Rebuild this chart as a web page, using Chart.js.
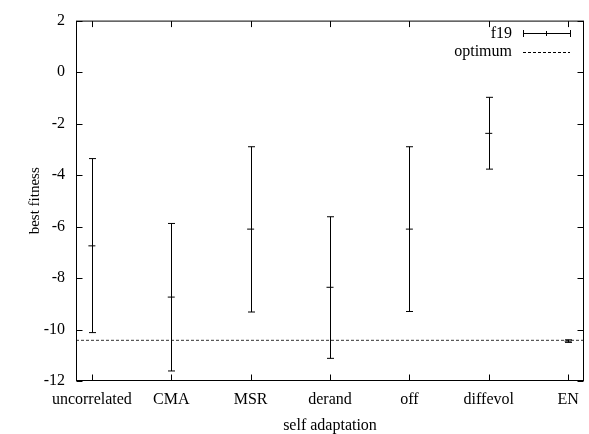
<!DOCTYPE html>
<html>
<head>
<meta charset="utf-8">
<script src="https://cdn.jsdelivr.net/npm/chart.js@4"></script>
<style>
  html, body { margin: 0; padding: 0; background: #fff; }
  #wrap { width: 589px; height: 434px; }
</style>
</head>
<body>
<div id="wrap"><canvas id="chart" width="589" height="434"></canvas></div>
<script>
const CATEGORIES = ["uncorrelated", "CMA", "MSR", "derand", "off", "diffevol", "EN"];
const MEAN = [-6.75, -8.74, -6.1, -8.36, -6.1, -2.38, -10.45];
const LOW = [-10.12, -11.61, -9.32, -11.12, -9.3, -3.77, -10.5];
const HIGH = [-3.36, -5.88, -2.9, -5.62, -2.9, -0.98, -10.4];
const OPTIMUM = -10.42;
const Y_TICKS = [2, 0, -2, -4, -6, -8, -10, -12];
const FONT = "Liberation Serif, Times New Roman, serif";

// gnuplot style frame with inward ticks, error bars and legend
const gnuplotLook = {
  id: "gnuplotLook",
  afterDatasetsDraw(chart) {
    const { ctx, chartArea: a, scales: { x, y } } = chart;
    ctx.save();
    ctx.strokeStyle = "#000";
    ctx.lineWidth = 1;

    // error bars
    CATEGORIES.forEach((c, i) => {
      const px = Math.round(x.getPixelForValue(i)) + 0.5;
      const lo = y.getPixelForValue(LOW[i]);
      const hi = y.getPixelForValue(HIGH[i]);
      ctx.beginPath();
      ctx.moveTo(px, lo); ctx.lineTo(px, hi);
      ctx.moveTo(px - 3.5, lo); ctx.lineTo(px + 3.5, lo);
      ctx.moveTo(px - 3.5, hi); ctx.lineTo(px + 3.5, hi);
      ctx.stroke();
    });

    // frame
    const L = a.left + 0.5, R = a.right - 0.5, T = a.top + 0.5, B = a.bottom - 0.5;
    ctx.strokeRect(L, T, R - L, B - T);
    ctx.beginPath();
    Y_TICKS.forEach((v) => {
      const py = Math.round(y.getPixelForValue(v)) + 0.5;
      ctx.moveTo(L, py); ctx.lineTo(L + 6, py);
      ctx.moveTo(R, py); ctx.lineTo(R - 6, py);
    });
    CATEGORIES.forEach((c, i) => {
      const px = Math.round(x.getPixelForValue(i)) + 0.5;
      ctx.moveTo(px, B); ctx.lineTo(px, B - 6);
      ctx.moveTo(px, T); ctx.lineTo(px, T + 6);
    });
    ctx.stroke();

    // legend
    ctx.font = "16px " + FONT;
    ctx.fillStyle = "#000";
    ctx.textAlign = "right";
    ctx.textBaseline = "middle";
    ctx.fillText("f19", 512, 34);
    ctx.fillText("optimum", 512, 52);
    ctx.beginPath();
    ctx.moveTo(523, 33.5); ctx.lineTo(570, 33.5);
    ctx.moveTo(523.5, 30); ctx.lineTo(523.5, 37);
    ctx.moveTo(570.5, 30); ctx.lineTo(570.5, 37);
    ctx.moveTo(546.5, 31); ctx.lineTo(546.5, 36);
    ctx.stroke();
    ctx.setLineDash([3, 2]);
    ctx.beginPath();
    ctx.moveTo(523, 52.5); ctx.lineTo(570, 52.5);
    ctx.stroke();
    ctx.restore();
  }
};

new Chart(document.getElementById("chart"), {
  type: "scatter",
  data: {
    datasets: [
      {
        label: "f19",
        data: MEAN.map((v, i) => ({ x: i, y: v })),
        pointStyle: "line",
        radius: 3.5,
        borderColor: "#000",
        backgroundColor: "#000",
        borderWidth: 1,
      },
      {
        label: "optimum",
        type: "line",
        data: [{ x: -0.2, y: OPTIMUM }, { x: 6.2, y: OPTIMUM }],
        borderColor: "#333",
        borderWidth: 1,
        borderDash: [3, 2],
        pointRadius: 0,
        fill: false,
      },
    ],
  },
  options: {
    responsive: false,
    animation: false,
    events: [],
    layout: { padding: { top: 19, right: 5, left: 0, bottom: 0 } },
    plugins: { legend: { display: false }, tooltip: { enabled: false } },
    scales: {
      x: {
        type: "linear",
        min: -0.2,
        max: 6.2,
        afterBuildTicks: (s) => { s.ticks = CATEGORIES.map((c, i) => ({ value: i })); },
        afterFit: (s) => { s.height = 53; },
        grid: { display: false, drawTicks: false },
        border: { display: false },
        ticks: {
          padding: 9,
          color: "#000",
          font: { family: FONT, size: 16 },
          maxRotation: 0,
          autoSkip: false,
          callback: (v) => CATEGORIES[v] ?? "",
        },
        title: {
          display: true,
          text: "self adaptation",
          color: "#000",
          font: { family: FONT, size: 16 },
          padding: { top: 0, bottom: -1 },
        },
      },
      y: {
        min: -12,
        max: 2,
        afterBuildTicks: (s) => { s.ticks = Y_TICKS.map((v) => ({ value: v })); },
        afterFit: (s) => { s.width = 76; },
        grid: { display: false, drawTicks: false },
        border: { display: false },
        ticks: {
          padding: 11,
          color: "#000",
          font: { family: FONT, size: 16 },
        },
        title: {
          display: true,
          text: "best fitness",
          color: "#000",
          font: { family: FONT, size: 15 },
          padding: { top: 26, bottom: 0 },
        },
      },
    },
  },
  plugins: [gnuplotLook],
});
</script>
</body>
</html>
